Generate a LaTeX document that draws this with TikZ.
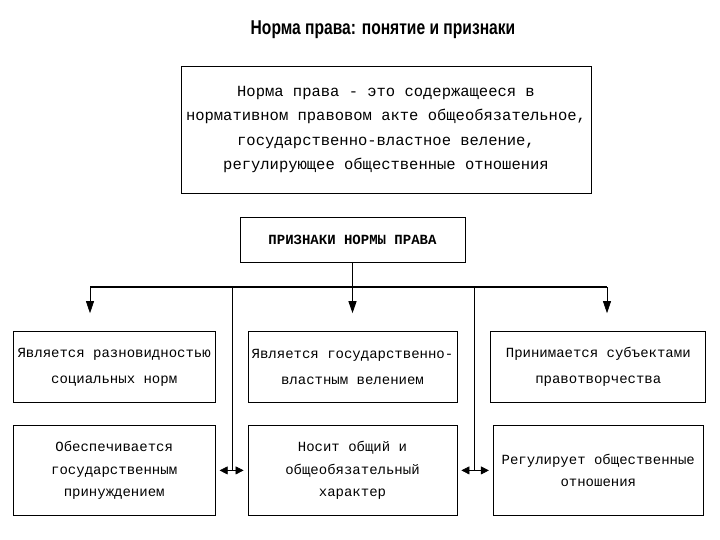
\documentclass[tikz,border=0pt]{standalone}
\usepackage{fontspec}
\setmonofont{Liberation Mono}
\newfontfamily\titlefont[FakeStretch=0.78]{Liberation Sans}
\usetikzlibrary{arrows.meta,positioning}

\begin{document}
\begin{tikzpicture}[x=1pt, y=-1pt, >={Triangle[width=8pt,length=12pt]},
  sign/.style={draw, line width=0.8pt, minimum width=202pt, minimum height=71pt, inner sep=2pt,
    align=center, font=\ttfamily\fontsize{14}{26}\selectfont},
  signlow/.style={sign, minimum height=90pt, font=\ttfamily\fontsize{14}{22.5}\selectfont},
  link/.style={line width=0.6pt}]
  \useasboundingbox (0,0) rectangle (720,540);
  \node[font=\titlefont\bfseries\fontsize{20}{24}\selectfont] (title) at (383,30) {Норма права: понятие и признаки};
  \node[draw, line width=0.8pt, minimum width=410pt, minimum height=127pt, align=center,
    font=\ttfamily\fontsize{15.5}{24.5}\selectfont] (defn) at (386,129.5)
    {Норма права - это содержащееся в\\нормативном правовом акте общеобязательное,\\государственно-властное веление,\\регулирующее общественные отношения};
  \node[draw, line width=0.8pt, minimum width=225pt, minimum height=45pt,
    font=\ttfamily\bfseries\fontsize{14}{16}\selectfont] (hdr) [below=24pt of defn, xshift=-33.5pt] {ПРИЗНАКИ НОРМЫ ПРАВА};
  % first row
  \node[sign, minimum width=209pt] (m2) [below=68pt of hdr] {Является государственно-\\властным велением};
  \node[sign] (m1) [left=32pt of m2] {Является разновидностью\\социальных норм};
  \node[sign, minimum width=215pt] (m3) [right=33pt of m2] {Принимается субъектами\\правотворчества};
  % second row
  \node[signlow] (b1) [below=22pt of m1] {Обеспечивается\\государственным\\принуждением};
  \node[signlow, minimum width=209pt] (b2) [below=22pt of m2] {Носит общий и\\общеобязательный\\характер};
  \node[signlow, minimum width=210pt] (b3) [below=22pt of m3] {Регулирует общественные\\отношения};
  % connectors
  \coordinate (barL) at (90,287);
  \coordinate (barR) at (607,287);
  \coordinate (gapA) at (232,287);
  \coordinate (gapB) at (474,287);
  \draw[line width=1.4pt] (barL) -- (barR);
  \draw[->, line width=1.2pt, shorten >=18pt] (hdr) -- (hdr |- m2.north);
  \draw[->, link, shorten >=18pt] (barL) -- (barL |- m1.north);
  \draw[->, link, shorten >=18pt] (barR) -- (barR |- m3.north);
  \draw[link] (gapA) -- (gapA |- b1.east);
  \draw[link] (gapB) -- (gapB |- b2.east);
  \draw[{Triangle[width=8pt,length=8pt]}-{Triangle[width=8pt,length=8pt]}, link, shorten <=4pt, shorten >=4pt] (b1) -- (b2);
  \draw[{Triangle[width=8pt,length=8pt]}-{Triangle[width=8pt,length=8pt]}, link, shorten <=4pt, shorten >=4pt] (b2) -- (b3);
\end{tikzpicture}
\end{document}
